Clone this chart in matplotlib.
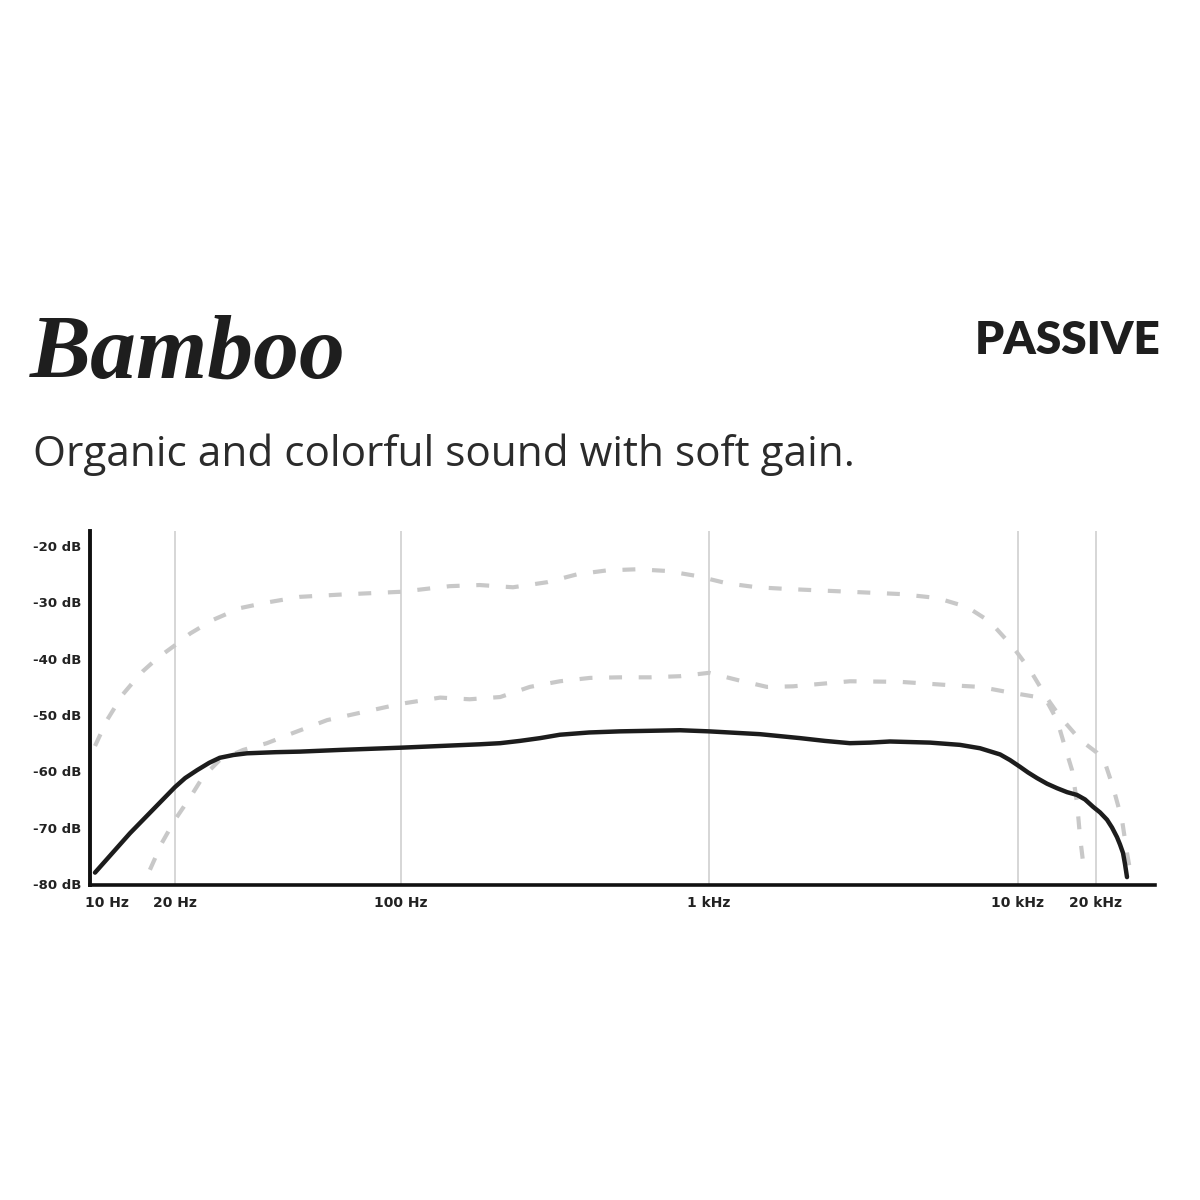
import numpy as np
import matplotlib
matplotlib.use("Agg")
import matplotlib.pyplot as plt

# Courbe de réponse en fréquence - micro "Bamboo" (passif)
# valeurs (Hz, dB)
freq_main = [8.85, 12.64, 20, 21.5, 23.4, 25.5, 27.5, 30.3, 33.4, 41.0, 48.7, 64.8, 100,
             180, 210, 243, 283, 328, 408, 514, 805, 1000, 1462, 1970, 2374, 2858, 3319,
             3853, 5190, 6486, 7535, 8750, 9420, 10180, 10930, 11840, 12940, 14150,
             15460, 16900, 18140, 19480, 20730, 22060, 23070, 24110, 24760, 25430,
             25890, 26350]
db_main = [-78.0, -71.0, -62.8, -61.2, -59.8, -58.5, -57.6, -57.1, -56.8, -56.6, -56.5,
           -56.2, -55.8, -55.2, -55.0, -54.6, -54.1, -53.5, -53.1, -52.9, -52.7, -52.9,
           -53.4, -54.1, -54.6, -55.0, -54.9, -54.7, -54.9, -55.3, -55.9, -57.0, -58.0,
           -59.2, -60.2, -61.2, -62.2, -63.0, -63.7, -64.2, -65.0, -66.3, -67.3, -68.6,
           -70.0, -71.7, -73.0, -74.5, -76.5, -78.8]

freq_haut = [8.85, 10.0, 10.85, 11.77, 13.03, 14.43, 16.82, 20, 22.3, 26.2, 31.8, 38.5,
             48.7, 64.8, 100, 144, 180, 231, 298, 373, 466, 584, 730, 914, 1144, 1430,
             1788, 2858, 4150, 5470, 6843, 8110, 9630, 11130, 12940, 14530, 17360,
             20180, 21670, 23270, 25200, 26350, 27060]
db_haut = [-55.5, -50.9, -48.6, -46.3, -44.2, -42.2, -39.8, -37.6, -35.5, -33.1, -31.0,
           -30.0, -29.0, -28.6, -28.1, -27.1, -26.9, -27.3, -26.4, -25.0, -24.3, -24.1,
           -24.4, -25.3, -26.6, -27.3, -27.6, -28.1, -28.5, -29.2, -30.8, -33.4, -37.9,
           -42.0, -47.0, -50.3, -54.4, -56.7, -58.5, -62.8, -68.6, -74.5, -77.5]

freq_bas = [15.49, 17.51, 20, 22.3, 24.4, 27.5, 32.5, 38.5, 46.3, 59.1, 74.7, 100, 134,
            167, 210, 262, 328, 411, 514, 643, 805, 1000, 1241, 1540, 1870, 2858, 4150,
            6026, 7535, 9213, 11840, 12940, 14150, 15190, 16170, 16900, 17360, 17980]
db_bas = [-77.5, -72.7, -68.6, -64.6, -61.0, -58.0, -56.2, -55.0, -53.2, -50.9, -49.6,
          -48.0, -46.9, -47.2, -46.8, -45.0, -44.0, -43.4, -43.3, -43.3, -43.1, -42.5,
          -43.8, -45.0, -44.9, -44.0, -44.1, -44.7, -45.0, -45.9, -46.8, -47.6, -50.9,
          -55.7, -59.8, -65.6, -71.7, -77.5]

x_ticks = [10, 20, 100, 1000, 10000, 20000]
x_labels = ["10 Hz", "20 Hz", "100 Hz", "1 kHz", "10 kHz", "20 kHz"]
x_grid = [20, 100, 1000, 10000, 20000]
y_ticks = [-20, -30, -40, -50, -60, -70, -80]
y_labels = ["-20 dB", "-30 dB", "-40 dB", "-50 dB", "-60 dB", "-70 dB", "-80 dB"]

# echelle "log" du graphique d'origine, pas tout a fait reguliere
ech_log = np.array([0.0, 1.0, np.log10(20), 2.0, 3.0, 4.0, np.log10(20000), 5.0])
ech_pos = np.array([-119.0, 107.0, 175.0, 401.0, 709.0, 1018.0, 1096.0, 1277.0])


def vers_pos(f):
    f = np.asarray(f, dtype=float)
    return np.interp(np.log10(np.maximum(f, 1e-9)), ech_log, ech_pos)


def depuis_pos(p):
    return 10 ** np.interp(np.asarray(p, dtype=float), ech_pos, ech_log)


fig = plt.figure(figsize=(12, 12), dpi=100)
fig.patch.set_facecolor("white")
ax = fig.add_axes([90 / 1200, 1 - 885 / 1200, 1065 / 1200, 354 / 1200])
ax.set_xscale("function", functions=(vers_pos, depuis_pos))
ax.set_xlim(8.41, 33800)
ax.set_ylim(-80.2, -17.3)

for f in x_grid:
    ax.axvline(f, color="#d0d0d0", lw=1.2, zorder=1)

style_tirets = (0, (3.1, 4.0))
ax.plot(freq_haut, db_haut, color="#c8c8c8", lw=3.0, linestyle=style_tirets,
        solid_joinstyle="round", zorder=2)
ax.plot(freq_bas, db_bas, color="#c8c8c8", lw=3.0, linestyle=style_tirets,
        solid_joinstyle="round", zorder=2)
ax.plot(freq_main, db_main, color="#1c1c1c", lw=3.2, solid_joinstyle="round",
        solid_capstyle="round", zorder=3)

for cote in ["top", "right"]:
    ax.spines[cote].set_visible(False)
ax.spines["left"].set_linewidth(2.8)
ax.spines["bottom"].set_linewidth(2.6)
ax.spines["left"].set_color("#111111")
ax.spines["bottom"].set_color("#111111")

ax.set_xticks(x_ticks)
ax.set_xticklabels(x_labels)
ax.xaxis.set_minor_locator(matplotlib.ticker.NullLocator())
ax.set_yticks(y_ticks)
ax.set_yticklabels(y_labels)
ax.tick_params(length=0, labelsize=9.5, colors="#222222")
ax.tick_params(axis="x", labelsize=10, pad=8)
ax.tick_params(axis="y", pad=6)
for lab in ax.get_xticklabels() + ax.get_yticklabels():
    lab.set_fontweight("bold")
    lab.set_family("DejaVu Sans")

# titres
fig.text(30 / 1200, 1 - 378 / 1200, "Bamboo", fontsize=66, family="Liberation Serif",
         style="italic", fontweight="bold", color="#1e1e1e", va="baseline", ha="left")
fig.text(1160 / 1200, 1 - 340 / 1200, "PASSIVE", fontsize=33, family="Lato",
         fontweight="heavy", color="#1e1e1e", va="center", ha="right")
fig.text(33 / 1200, 1 - 466 / 1200, "Organic and colorful sound with soft gain.",
         fontsize=30.4, family="Open Sans", fontweight="normal", color="#2b2b2b",
         va="baseline", ha="left")

plt.savefig("out.png", dpi=100, facecolor="white")
plt.close()
